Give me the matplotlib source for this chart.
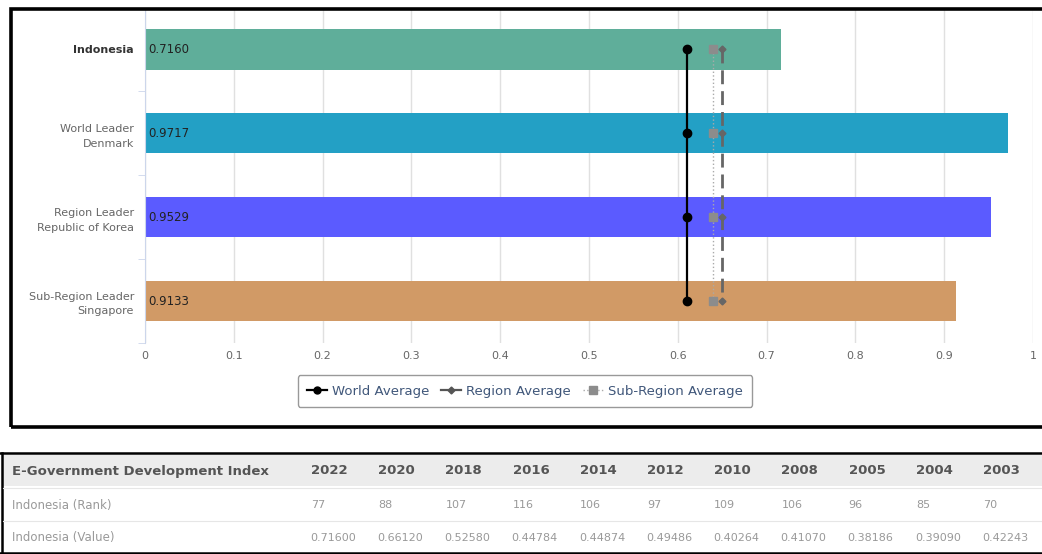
import matplotlib.pyplot as plt
from matplotlib.patches import Rectangle
from matplotlib.lines import Line2D

# chart data
categories = ['Indonesia', 'World Leader\nDenmark', 'Region Leader\nRepublic of Korea',
              'Sub-Region Leader\nSingapore']
egdi = [0.7160, 0.9717, 0.9529, 0.9133]
bar_colors = ['#5fae9a', '#23a0c5', '#5b5bff', '#d19a66']
world_avg = 0.6102
region_avg = 0.6493
subregion_avg = 0.6399

# table data
years = ['2022', '2020', '2018', '2016', '2014', '2012', '2010', '2008', '2005', '2004', '2003']
ranks = ['77', '88', '107', '116', '106', '97', '109', '106', '96', '85', '70']
values = ['0.71600', '0.66120', '0.52580', '0.44784', '0.44874', '0.49486',
          '0.40264', '0.41070', '0.38186', '0.39090', '0.42243']

W, H = 1042, 554
fig = plt.figure(figsize=(W / 100, H / 100), dpi=100)


def fx(px):
    return px / W


def fy(py):
    return 1 - py / H


ax = fig.add_axes([fx(145), fy(343), fx(888), fy(7.5) - fy(343)])
ypos = list(range(len(categories)))
ax.barh(ypos, egdi, height=0.48, color=bar_colors, zorder=2)
for y, v in zip(ypos, egdi):
    ax.text(0.004, y, f'{v:.4f}', va='center', ha='left', fontsize=8.5, color='#222222', zorder=5)

ax.plot([world_avg] * 4, ypos, color='black', lw=1.6, marker='o', ms=6, zorder=4)
ax.plot([region_avg] * 4, ypos, color='#666666', lw=2, ls=(0, (5, 2.5)), marker='D', ms=3.5,
        zorder=4)
ax.plot([subregion_avg] * 4, ypos, color='#aaaaaa', lw=1, ls=':', marker='s', ms=5.5,
        markerfacecolor='#8c8c8c', markeredgecolor='#8c8c8c', zorder=3)

ax.set_xlim(0, 1)
ax.set_ylim(3.5, -0.5)
ax.set_xticks([i / 10 for i in range(11)])
ax.set_xticklabels(['0', '0.1', '0.2', '0.3', '0.4', '0.5', '0.6', '0.7', '0.8', '0.9', '1'])
ax.tick_params(axis='x', length=0, pad=6, labelsize=8, labelcolor='#666666')
ax.set_yticks(ypos)
ax.set_yticklabels(categories, fontsize=8, color='#666666', linespacing=1.55)
ax.get_yticklabels()[0].set_fontweight('bold')
ax.get_yticklabels()[0].set_color('#333333')
ax.tick_params(axis='y', length=0, pad=8)
ax.set_yticks([0.5, 1.5, 2.5, 3.5], minor=True)
ax.tick_params(axis='y', which='minor', length=5, color='#ccd6eb')
ax.grid(axis='x', color='#e0e0e0', lw=1, zorder=0)
for s in ['top', 'right', 'bottom']:
    ax.spines[s].set_visible(False)
ax.spines['left'].set_color('#ccd6eb')

handles = [
    Line2D([], [], color='black', lw=1.6, marker='o', ms=5),
    Line2D([], [], color='#555555', lw=1.6, marker='D', ms=3.5),
    Line2D([], [], color='#aaaaaa', lw=1, ls=':', marker='s', ms=5.5,
           markerfacecolor='#8c8c8c', markeredgecolor='#8c8c8c'),
]
leg = fig.legend(handles, ['World Average', 'Region Average', 'Sub-Region Average'],
                 loc='center', bbox_to_anchor=(fx(525), fy(391)), ncol=3, fontsize=9.5,
                 handlelength=1.5, handletextpad=0.4, columnspacing=0.9, fancybox=True,
                 edgecolor='#999999', framealpha=1, borderpad=0.7)
for t in leg.get_texts():
    t.set_color('#40577a')

# chart panel border
fig.patches.append(Rectangle((fx(11), fy(427)), fx(1040), fy(9) - fy(427),
                             transform=fig.transFigure, fill=False, edgecolor='black', lw=2.6))

# table
fig.patches.append(Rectangle((fx(3), fy(486)), fx(1039), fy(455) - fy(486),
                             transform=fig.transFigure, facecolor='#ececec', edgecolor='none'))
fig.lines.append(Line2D([fx(0), fx(1042)], [fy(453), fy(453)], transform=fig.transFigure,
                        color='black', lw=1.8))
fig.lines.append(Line2D([fx(0), fx(1042)], [fy(552.5), fy(552.5)], transform=fig.transFigure,
                        color='black', lw=1.8))
fig.lines.append(Line2D([fx(2), fx(2)], [fy(453), fy(552.5)], transform=fig.transFigure,
                        color='black', lw=1.8))
for py in [488, 521]:
    fig.lines.append(Line2D([fx(3), fx(1042)], [fy(py), fy(py)], transform=fig.transFigure,
                            color='#e6e6e6', lw=0.8))

fig.text(fx(12), fy(471), 'E-Government Development Index', fontsize=9.5, fontweight='bold',
         color='#555555', va='center')
fig.text(fx(12), fy(505), 'Indonesia (Rank)', fontsize=8.5, color='#999999', va='center')
fig.text(fx(12), fy(538), 'Indonesia (Value)', fontsize=8.5, color='#999999', va='center')
for i, (yr, rk, val) in enumerate(zip(years, ranks, values)):
    x0 = 311 + i * 67.2
    fig.text(fx(x0), fy(471), yr, fontsize=9.5, fontweight='bold', color='#555555', va='center')
    fig.text(fx(x0), fy(505), rk, fontsize=8, color='#999999', va='center')
    fig.text(fx(x0 - 1), fy(538), val, fontsize=8, color='#999999', va='center')

fig.savefig('out.png', dpi=100)
